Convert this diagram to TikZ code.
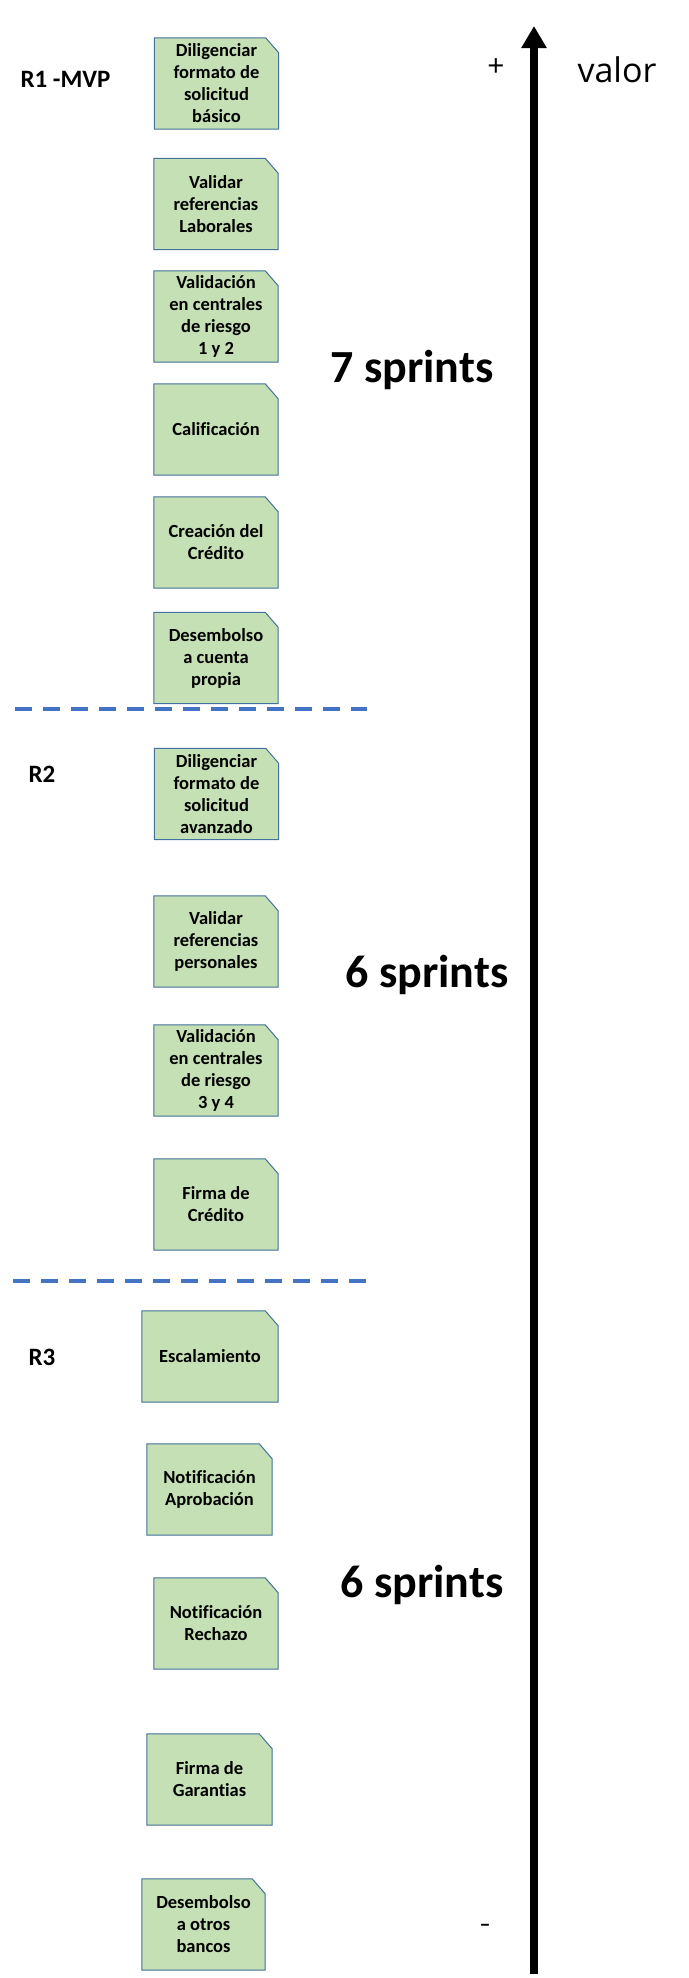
\documentclass[tikz,border=0pt]{standalone}
\usepackage{fontspec}
\setmainfont{Carlito}[Ligatures={NoCommon}]
\newfontfamily\ejefont{Open Sans}
\usetikzlibrary{arrows.meta,backgrounds}

\definecolor{verdecaja}{RGB}{197,224,180}
\definecolor{bordecaja}{RGB}{65,113,156}
\definecolor{azullinea}{RGB}{68,114,196}

\tikzset{
  tarea/.style={rectangle, inner sep=0pt, minimum width=124pt, minimum height=91pt,
    align=center, font=\fontsize{18.5}{22}\selectfont\bfseries},
  caja/.style={fill=verdecaja, draw=bordecaja, line width=1pt},
  release/.style={anchor=base west, font=\fontsize{25}{30}\selectfont\bfseries},
  sprints/.style={anchor=base west, font=\fontsize{46}{55}\selectfont\bfseries},
  corte/.style={draw=azullinea, line width=4pt, dash pattern=on 17pt off 11pt},
}

\begin{document}
\begin{tikzpicture}[x=1pt,y=-1pt]
    \useasboundingbox (0,0) rectangle (688,1978);

    % Releases
    \node[release] (r1) at (17,87) {R1 -MVP};
    \node[release] (r2) at (25,782) {R2};
    \node[release] (r3) at (25,1365) {R3};

    % Historias R1
    \node[tarea] (t1) at (216.5,83.5) {Diligenciar\\formato de\\solicitud\\básico};
    \node[tarea] (t2) at (216,204) {Validar\\referencias\\Laborales};
    \node[tarea] (t3) at (216,316.5) {Validación\\en centrales\\de riesgo\\1 y 2};
    \node[tarea] (t4) at (216,429.5) {Calificación};
    \node[tarea] (t5) at (216,542.5) {Creación del\\Crédito};
    \node[tarea] (t6) at (216,658) {Desembolso\\a cuenta\\propia};

    % Historias R2
    \node[tarea] (t7) at (216.5,794) {Diligenciar\\formato de\\solicitud\\avanzado};
    \node[tarea] (t8) at (216,941.5) {Validar\\referencias\\personales};
    \node[tarea] (t9) at (216,1070.5) {Validación\\en centrales\\de riesgo\\3 y 4};
    \node[tarea] (t10) at (216,1204.5) {Firma de\\Crédito};

    % Historias R3
    \node[tarea, minimum width=136pt] (t11) at (210,1356.5) {Escalamiento};
    \node[tarea, minimum width=125pt] (t12) at (209.5,1489.5) {Notificación\\Aprobación};
    \node[tarea] (t13) at (216,1623.5) {Notificación\\Rechazo};
    \node[tarea, minimum width=125pt] (t14) at (209.5,1779.5) {Firma de\\Garantias};
    \node[tarea, minimum width=123pt] (t15) at (203.5,1924.5) {Desembolso\\a otros\\bancos};

    % Cajas con esquina recortada
    \begin{scope}[on background layer]
        \foreach \t in {t1,t2,t3,t4,t5,t6,t7,t8,t9,t10,t11,t12,t13,t14,t15}
            \draw[caja] (\t.south west) -- (\t.north west) -- ([xshift=-13pt]\t.north east)
                -- ([yshift=-15pt]\t.north east) -- (\t.south east) -- cycle;
    \end{scope}

    % Cortes entre releases
    \coordinate (c1a) at (15,709);
    \coordinate (c1b) at (367,709);
    \coordinate (c2a) at (13,1281);
    \coordinate (c2b) at (366,1281);
    \draw[corte] (c1a) -- (c1b);
    \draw[corte] (c2a) -- (c2b);

    % Sprints
    \node[sprints] (s1) at (327,382) {7 sprints};
    \node[sprints] (s2) at (342,987) {6 sprints};
    \node[sprints] (s3) at (337,1597) {6 sprints};

    % Eje de valor
    \coordinate (base) at (534,1974);
    \coordinate (punta) at (534,26);
    \draw[line width=8pt, -{Triangle[width=24pt,length=22pt]}] (base) -- (punta);
    \node[font=\ejefont\fontsize{30}{36}\selectfont] (mas) at (496,68) {+};
    \node[anchor=base west, font=\ejefont\fontsize{34}{40}\selectfont] (valor) at (574,82) {valor};
    \node[font=\fontsize{22}{26}\selectfont\bfseries] (menos) at (485,1928) {–};
\end{tikzpicture}
\end{document}
